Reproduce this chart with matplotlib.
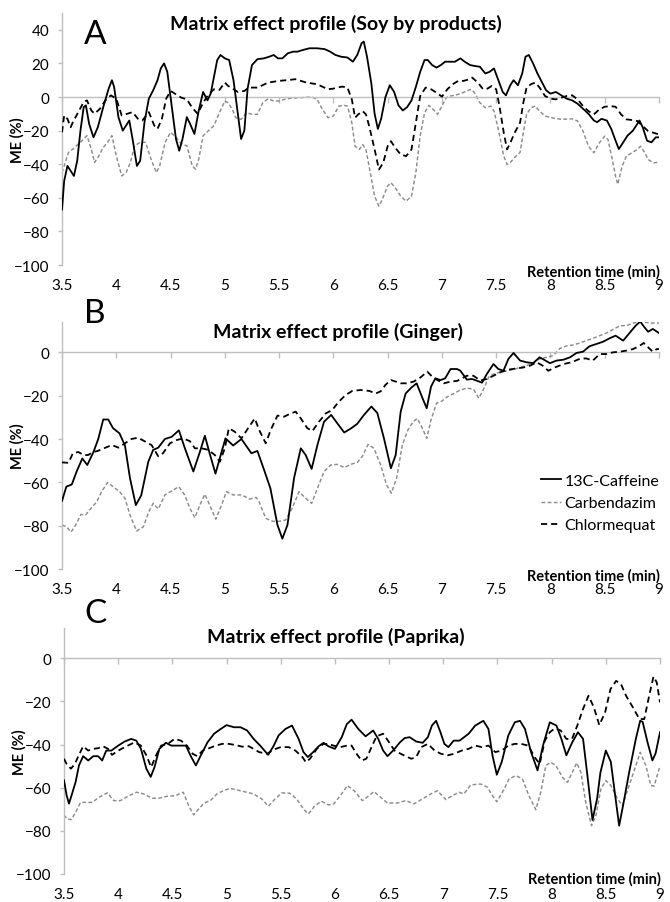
import numpy as np
import matplotlib
matplotlib.use("Agg")
import matplotlib.pyplot as plt
from matplotlib.transforms import offset_copy

plt.rcParams['font.family'] = ['Lato', 'DejaVu Sans']

# axis ticks
x_ticks = [3.5, 4, 4.5, 5, 5.5, 6, 6.5, 7, 7.5, 8, 8.5, 9]
x_tick_labels = ['3.5', '4', '4.5', '5', '5.5', '6', '6.5', '7', '7.5', '8', '8.5', '9']
y_ticks_a = [-100, -80, -60, -40, -20, 0, 20, 40]
y_ticks_bc = [-100, -80, -60, -40, -20, 0]

series_names = ['13C-Caffeine', 'Carbendazim', 'Chlormequat']
panel_letters = ['A', 'B', 'C']
panel_titles = ['Matrix effect profile (Soy by products)',
                'Matrix effect profile (Ginger)',
                'Matrix effect profile (Paprika)']

# (retention time, ME %)
a_caffeine = [(3.50,-67),(3.52,-50),(3.55,-41),(3.58,-44),(3.61,-47),(3.64,-38),(3.67,-20),(3.70,-6),
    (3.72,-5),(3.75,-16),(3.79,-24),(3.83,-18),(3.88,-6),(3.93,5),(3.96,10),(3.98,6),(4.02,-12),
    (4.06,-20),(4.09,-17),(4.12,-14),(4.15,-25),(4.19,-41),(4.22,-38),(4.26,-15),(4.30,-1),(4.34,4),
    (4.38,10),(4.41,17),(4.44,20),(4.47,15),(4.51,-5),(4.55,-25),(4.58,-32),(4.61,-25),(4.65,-12),
    (4.68,-16),(4.72,-22),(4.76,-8),(4.80,3),(4.84,-2),(4.87,2),(4.90,12),(4.93,22),(4.96,25),(5.00,23),
    (5.04,22),(5.08,10),(5.12,-10),(5.15,-25),(5.18,-20),(5.21,5),(5.25,19),(5.30,22.5),(5.36,23),
    (5.41,24),(5.45,25),(5.49,23),(5.53,23),(5.58,26),(5.63,27),(5.67,27),(5.72,28),(5.78,29),(5.85,29),
    (5.92,28.5),(5.97,27),(6.02,25),(6.07,24),(6.13,23.5),(6.18,21),(6.22,25),(6.26,32),(6.28,33),
    (6.31,24),(6.35,8),(6.38,-10),(6.41,-19),(6.44,-13),(6.48,0),(6.52,7),(6.56,3),(6.60,-5),(6.64,-8),
    (6.68,-6),(6.72,-2),(6.76,6),(6.80,15),(6.84,22),(6.87,22),(6.91,19),(6.95,17.5),(6.99,19),(7.03,21),
    (7.07,21),(7.12,21),(7.17,23),(7.21,21),(7.26,19),(7.30,18.5),(7.35,18),(7.40,14),(7.44,15),(7.48,17),
    (7.52,10),(7.56,3),(7.59,1),(7.63,7),(7.66,10),(7.70,7),(7.74,14),(7.77,24),(7.80,25),(7.84,20),
    (7.88,14),(7.92,9),(7.96,4),(8.00,2),(8.05,3),(8.10,1),(8.15,-1),(8.20,-2),(8.25,-4),(8.30,-7),
    (8.35,-10),(8.40,-14),(8.43,-15),(8.47,-13),(8.52,-14),(8.56,-19),(8.60,-26),(8.63,-31),(8.67,-27),
    (8.71,-23),(8.76,-20),(8.80,-16),(8.82,-14),(8.85,-18),(8.89,-26),(8.93,-27),(8.97,-24),(9.00,-24)]

a_carbendazim = [(3.50,-45),(3.53,-39),(3.56,-33),(3.60,-31),(3.65,-28),(3.70,-25),(3.73,-23),(3.77,-31),
    (3.80,-39),(3.84,-35),(3.88,-30),(3.92,-27),(3.96,-23),(4.00,-35),(4.05,-47),(4.09,-45),(4.13,-39),
    (4.17,-29),(4.22,-27),(4.27,-27),(4.32,-37),(4.37,-45),(4.40,-41),(4.45,-27),(4.50,-21),(4.55,-24),
    (4.60,-28),(4.65,-29),(4.70,-41),(4.73,-43),(4.76,-37),(4.80,-23),(4.85,-20),(4.90,-17),(4.95,-9.4),
    (5.00,-2.4),(5.03,-3.4),(5.07,-7.4),(5.10,-12.3),(5.15,-13.3),(5.20,-9.4),(5.25,-10.3),(5.30,-10.3),
    (5.35,-3.4),(5.40,-1),(5.45,-2.4),(5.50,-2.4),(5.55,-1.4),(5.60,-0.8),(5.70,-0.4),(5.80,0),
    (5.85,-1.4),(5.90,-7.4),(5.95,-12.3),(6.00,-11.3),(6.05,-5.4),(6.10,-5),(6.13,-5.4),(6.17,-15.3),
    (6.20,-29.3),(6.24,-31.2),(6.27,-28.3),(6.30,-31.2),(6.34,-45),(6.38,-59),(6.42,-65),(6.45,-61),
    (6.50,-53),(6.53,-51),(6.57,-54),(6.62,-59),(6.67,-62),(6.72,-59),(6.76,-45),(6.80,-23),(6.84,-9.4),
    (6.88,-5),(6.92,-7.4),(6.96,-10.3),(7.00,-5.4),(7.04,-0.4),(7.08,0.6),(7.13,1.2),(7.18,2.2),
    (7.23,3.6),(7.27,4.6),(7.30,2.6),(7.35,-3.4),(7.40,-6.4),(7.45,-5.4),(7.48,-8.4),(7.52,-19.3),
    (7.57,-35.2),(7.60,-40.2),(7.63,-39),(7.67,-36),(7.72,-33),(7.75,-21.3),(7.78,-10.3),(7.82,-6.4),
    (7.86,-5.4),(7.90,-8.4),(7.95,-11.3),(8.00,-12.3),(8.10,-13.3),(8.20,-13),(8.25,-14.3),(8.30,-20.3),
    (8.35,-29.3),(8.40,-33.2),(8.45,-27.3),(8.50,-23.3),(8.53,-25.3),(8.57,-37.2),(8.60,-47.2),(8.62,-52),
    (8.66,-41.2),(8.70,-35.2),(8.75,-33.2),(8.80,-31.2),(8.83,-29.3),(8.87,-33.2),(8.90,-37.2),
    (8.95,-39.2),(9.00,-38.8)]

a_chlormequat = [(3.50,-21),(3.52,-11),(3.55,-13),(3.58,-18),(3.60,-15),(3.65,-9),(3.70,-3),(3.73,-2),
    (3.77,-8),(3.80,-10),(3.85,-7),(3.90,-2),(3.95,1),(4.00,-1),(4.05,-11),(4.10,-10),(4.15,-9),(4.20,-13),
    (4.24,-14),(4.30,-9),(4.35,-17),(4.38,-19),(4.42,-13),(4.46,-1),(4.50,3.6),(4.55,1.6),(4.60,-0.4),
    (4.65,-1.4),(4.70,-6.4),(4.75,-10),(4.80,-3.4),(4.85,1.6),(4.90,4.6),(4.95,4.2),(5.00,8.6),(5.03,6.6),
    (5.08,4.6),(5.12,3),(5.18,3.6),(5.22,5.6),(5.30,5.6),(5.40,8.6),(5.50,9.6),(5.60,10.2),(5.65,10.6),
    (5.75,8.6),(5.85,7.6),(5.95,4.6),(6.00,5),(6.08,6.2),(6.13,5.6),(6.17,-1.4),(6.20,-12.3),(6.23,-10.3),
    (6.27,-8.4),(6.30,-10.3),(6.33,-17.3),(6.38,-31.2),(6.42,-43.2),(6.46,-39),(6.50,-29.3),(6.53,-26.3),
    (6.57,-30.2),(6.62,-34.2),(6.67,-35.2),(6.72,-31.2),(6.76,-15.3),(6.80,0.6),(6.85,5.6),(6.90,4.6),
    (6.95,2.6),(7.00,0.2),(7.05,4.6),(7.10,7.6),(7.15,9.6),(7.20,9.6),(7.25,10.5),(7.28,11.5),(7.33,8.6),
    (7.38,4.6),(7.42,5),(7.46,6.6),(7.50,4.6),(7.53,-5.4),(7.57,-21.3),(7.60,-31.2),(7.63,-27.3),
    (7.67,-21.3),(7.72,-15.3),(7.75,-3.4),(7.78,5.6),(7.82,7.6),(7.86,8.6),(7.90,5.6),(7.95,0.6),
    (8.00,-1),(8.05,-1.4),(8.10,-0.4),(8.15,0.6),(8.20,1),(8.25,-1.4),(8.30,-5.4),(8.35,-8.4),(8.40,-10.3),
    (8.45,-7.4),(8.50,-5.8),(8.55,-5.4),(8.60,-5.8),(8.65,-10.3),(8.70,-13.3),(8.75,-13.7),(8.80,-14.3),
    (8.85,-17.3),(8.90,-20.3),(8.95,-21.3),(9.00,-22.3)]

b_caffeine = [(3.50,-68.6),(3.54,-62),(3.59,-61),(3.635,-55),(3.687,-49),(3.733,-52),(3.79,-46),
    (3.834,-40),(3.88,-31),(3.926,-31),(3.97,-35),(4.03,-37.4),(4.08,-43),(4.126,-58),(4.18,-70.5),
    (4.23,-66),(4.295,-50.5),(4.34,-45),(4.387,-44),(4.448,-40),(4.51,-39),(4.577,-36),(4.63,-44),
    (4.71,-55),(4.77,-46),(4.816,-38.5),(4.86,-46.6),(4.914,-56),(4.97,-46),(5.006,-39.7),(5.077,-43),
    (5.153,-40),(5.245,-46.6),(5.30,-45.5),(5.36,-54),(5.42,-62.8),(5.485,-79.7),(5.53,-86),
    (5.577,-79.7),(5.638,-58),(5.70,-44.3),(5.745,-47.4),(5.80,-53.8),(5.853,-42.8),(5.914,-32),
    (5.98,-28.9),(6.037,-32.8),(6.10,-37),(6.166,-35),(6.22,-33),(6.28,-29),(6.35,-25),(6.405,-28),
    (6.466,-39.7),(6.53,-53.5),(6.574,-47.4),(6.62,-27.4),(6.666,-19),(6.718,-16.3),(6.767,-14.3),
    (6.82,-21),(6.86,-25.8),(6.90,-15.8),(6.94,-12),(6.987,-12.8),(7.03,-12),(7.08,-7.7),(7.14,-7.7),
    (7.17,-8.5),(7.23,-12.6),(7.277,-12.3),(7.317,-13),(7.37,-14),(7.414,-10),(7.475,-5.4),(7.52,-7.7),
    (7.567,-8.5),(7.613,-3),(7.66,-0.3),(7.72,-3.8),(7.78,-4.6),(7.84,-5),(7.90,-2.3),(7.94,-3.4),
    (7.995,-5),(8.057,-3.8),(8.12,-3.4),(8.18,-2.3),(8.24,-0.3),(8.30,0.3),(8.36,2.8),(8.42,3.8),
    (8.485,4.9),(8.546,6.5),(8.60,7.7),(8.67,5.4),(8.73,9),(8.785,12.3),(8.827,14.2),(8.867,11.5),
    (8.90,9.5),(8.943,10.8),(9.00,8.9)]

b_carbendazim = [(3.50,-79.7),(3.543,-80.5),(3.583,-83),(3.626,-79.7),(3.675,-74.8),(3.718,-75),
    (3.767,-72),(3.82,-69),(3.865,-64.3),(3.92,-60),(3.97,-62),(4.03,-64.3),(4.08,-67.4),(4.126,-75),
    (4.187,-82.5),(4.25,-80.5),(4.30,-73.5),(4.34,-69.7),(4.387,-72.3),(4.448,-65.8),(4.51,-64),
    (4.577,-62),(4.63,-65.8),(4.678,-72),(4.724,-76.3),(4.77,-70.5),(4.816,-65.5),(4.86,-70.5),
    (4.917,-77),(4.97,-70.5),(5.015,-64.3),(5.077,-65.8),(5.153,-65.8),(5.23,-67.7),(5.29,-67),
    (5.316,-69),(5.377,-76.6),(5.44,-78),(5.50,-78),(5.56,-77.4),(5.62,-72),(5.684,-64.3),(5.745,-67.4),
    (5.80,-69.7),(5.853,-62.8),(5.914,-55),(5.975,-52),(6.037,-51.7),(6.10,-53.2),(6.16,-51.7),
    (6.22,-50.8),(6.267,-48),(6.32,-42.5),(6.374,-44.3),(6.436,-52),(6.49,-61.2),(6.534,-65),
    (6.583,-58),(6.635,-42.8),(6.687,-35.8),(6.736,-32),(6.773,-30.5),(6.82,-35),(6.86,-39.7),
    (6.90,-31.2),(6.95,-23.5),(7.00,-22.5),(7.05,-20.5),(7.11,-19),(7.17,-17.4),(7.23,-16.5),
    (7.29,-17),(7.34,-21.2),(7.384,-17),(7.43,-11.5),(7.475,-10),(7.537,-9.2),(7.60,-8.5),(7.674,-7.7),
    (7.75,-6.5),(7.827,-5.4),(7.90,-3),(7.965,-2.3),(8.026,-1.5),(8.087,1.8),(8.15,3),(8.21,3.4),
    (8.27,4.3),(8.33,5.4),(8.393,6.5),(8.454,7.7),(8.515,8.9),(8.576,10.5),(8.64,12.3),(8.70,12.3),
    (8.76,13.5),(8.82,14.2),(8.88,13.8),(8.94,13.5),(9.00,13.5)]

b_chlormequat = [(3.50,-50.8),(3.56,-51),(3.60,-46.6),(3.65,-46),(3.70,-47.4),(3.74,-47.4),(3.79,-46),
    (3.83,-45.5),(3.90,-44),(3.96,-42.8),(4.02,-44),(4.08,-42),(4.14,-40),(4.20,-39.4),(4.26,-41),
    (4.325,-42.8),(4.387,-48),(4.43,-46.6),(4.494,-42),(4.555,-40.5),(4.617,-39.7),(4.678,-41),
    (4.724,-44.3),(4.785,-44.3),(4.847,-45),(4.908,-47.4),(4.954,-50.5),(5.00,-44.3),(5.037,-35),
    (5.09,-36.6),(5.153,-39.7),(5.215,-35),(5.276,-30.5),(5.316,-35.8),(5.377,-42),(5.423,-35.8),
    (5.485,-29.2),(5.546,-29.7),(5.607,-28.2),(5.653,-27.4),(5.70,-30.5),(5.76,-35),(5.807,-36.3),
    (5.868,-32),(5.93,-28.2),(5.99,-26.6),(6.05,-22.8),(6.113,-19.7),(6.175,-17.8),(6.25,-17.4),
    (6.33,-17.8),(6.39,-19),(6.436,-18),(6.48,-15),(6.53,-12.8),(6.574,-13.5),(6.62,-14.3),(6.68,-14.3),
    (6.74,-13.5),(6.80,-11.7),(6.865,-8.9),(6.91,-11.2),(6.957,-12.8),(7.018,-14.3),(7.08,-13.5),
    (7.14,-13.2),(7.23,-10.8),(7.29,-10.8),(7.353,-13),(7.414,-12.3),(7.475,-10.8),(7.537,-9.2),
    (7.613,-8),(7.69,-7.4),(7.75,-7),(7.81,-6.2),(7.873,-4.6),(7.93,-6.2),(7.98,-8.5),(8.04,-7),
    (8.12,-5.4),(8.194,-4.6),(8.27,-3),(8.33,-2.8),(8.39,-3.8),(8.454,-0.8),(8.515,-0.8),(8.576,0),
    (8.64,0.3),(8.70,0.8),(8.76,1.5),(8.815,2.8),(8.86,4.3),(8.90,2.3),(8.943,0.3),(8.98,1.5),(9.00,1.5)]

c_caffeine = [(3.50,-56.6),(3.524,-63.5),(3.546,-67.4),(3.57,-63.5),(3.607,-57.4),(3.638,-49.7),
    (3.677,-45.4),(3.723,-47.4),(3.77,-45.4),(3.815,-45.4),(3.852,-47.4),(3.89,-42.8),(3.937,-42.8),
    (4.00,-40.5),(4.06,-38.6),(4.12,-37.4),(4.167,-38.2),(4.21,-42),(4.26,-51.2),(4.30,-55),
    (4.335,-50.5),(4.38,-42),(4.44,-39.2),(4.49,-40.5),(4.55,-40.5),(4.625,-40.5),(4.67,-45.4),
    (4.717,-49.7),(4.763,-45),(4.824,-39),(4.885,-35),(4.946,-32.8),(5.00,-31),(5.07,-32),(5.13,-32),
    (5.19,-33.5),(5.25,-37.4),(5.31,-40.5),(5.384,-44.8),(5.436,-40.5),(5.48,-35.8),(5.543,-32.8),
    (5.604,-31.2),(5.665,-37.4),(5.71,-43.5),(5.75,-45.8),(5.80,-43.5),(5.85,-40.8),(5.895,-39.2),
    (5.94,-40.8),(6.00,-42),(6.063,-36.6),(6.11,-30.5),(6.154,-28.5),(6.216,-32.8),(6.283,-36.2),
    (6.353,-33.5),(6.40,-37.4),(6.445,-42.8),(6.485,-45.4),(6.537,-42.8),(6.60,-39),(6.644,-37),
    (6.69,-36.6),(6.75,-38.6),(6.81,-39.2),(6.858,-36.6),(6.895,-31.2),(6.934,-29),(6.974,-34.3),
    (7.01,-39.7),(7.047,-41.2),(7.096,-38.2),(7.15,-38.2),(7.234,-35),(7.295,-31.2),(7.37,-29),
    (7.417,-32.8),(7.454,-45),(7.494,-54),(7.54,-48),(7.60,-35.8),(7.66,-29.7),(7.708,-29),
    (7.754,-32.8),(7.81,-43.5),(7.87,-52),(7.92,-40.5),(7.983,-29.7),(8.044,-31.2),(8.09,-37.4),
    (8.136,-45),(8.19,-39),(8.243,-34.3),(8.29,-37.4),(8.33,-54.3),(8.377,-75),(8.42,-65),(8.45,-53),
    (8.50,-42.8),(8.546,-48),(8.59,-65),(8.623,-77.6),(8.66,-68),(8.715,-53),(8.777,-37.4),
    (8.817,-29),(8.84,-29.5),(8.885,-39),(8.93,-47.4),(8.96,-44),(9.00,-34.3)]

c_carbendazim = [(3.50,-72.6),(3.53,-74.5),(3.567,-74.8),(3.607,-71.4),(3.653,-66.8),(3.70,-66.8),
    (3.76,-66.8),(3.822,-64.5),(3.90,-62.4),(3.96,-66),(4.02,-66),(4.10,-63.7),(4.17,-62.1),
    (4.236,-62.9),(4.313,-64.9),(4.374,-64.9),(4.45,-64),(4.528,-63.7),(4.60,-62.1),(4.65,-68.3),
    (4.696,-72.6),(4.742,-69.9),(4.794,-67.1),(4.85,-66),(4.911,-62.9),(4.97,-61.4),(5.034,-60.3),
    (5.126,-61.4),(5.25,-62.9),(5.325,-65.2),(5.386,-68.6),(5.448,-65.2),(5.51,-62.4),(5.585,-62.6),
    (5.647,-65.2),(5.71,-69.9),(5.755,-72.2),(5.816,-68.3),(5.877,-66.3),(5.94,-68),(5.99,-67.5),
    (6.05,-63.7),(6.115,-59),(6.177,-61.4),(6.254,-66),(6.315,-63.7),(6.36,-61.8),(6.423,-64.5),
    (6.485,-67.1),(6.577,-67.1),(6.654,-66),(6.73,-67.5),(6.808,-65.2),(6.885,-62.9),(6.946,-61.4),
    (7.023,-65.5),(7.085,-63.7),(7.146,-62.1),(7.19,-62.9),(7.254,-58.7),(7.346,-58.3),(7.408,-59.8),
    (7.454,-63.7),(7.494,-66.5),(7.546,-62.1),(7.608,-55.9),(7.67,-54.4),(7.73,-55.9),(7.79,-63.7),
    (7.854,-70.2),(7.90,-62.1),(7.946,-49.8),(7.99,-48.2),(8.04,-49.8),(8.10,-55.2),(8.146,-57.5),
    (8.19,-52.9),(8.232,-48.5),(8.27,-52.9),(8.315,-66.8),(8.368,-77.6),(8.408,-73),(8.454,-60.6),
    (8.50,-56.7),(8.546,-59),(8.608,-65.2),(8.654,-68.3),(8.715,-59),(8.777,-49.8),(8.817,-43.6),
    (8.87,-49.8),(8.915,-59),(8.946,-59.3),(9.00,-49.8)]

c_chlormequat = [(3.50,-46.6),(3.524,-49),(3.564,-51.2),(3.60,-49),(3.638,-44.8),(3.677,-40.8),
    (3.723,-42.8),(3.77,-42),(3.815,-41.7),(3.86,-40.8),(3.907,-42),(3.943,-44.8),(3.98,-43.5),
    (4.03,-42),(4.09,-40.5),(4.15,-39),(4.21,-40.5),(4.26,-45),(4.304,-50.5),(4.35,-45),(4.396,-40.5),
    (4.457,-39.7),(4.52,-37.4),(4.58,-38.2),(4.634,-40.5),(4.687,-44.3),(4.73,-45.4),(4.78,-42.8),
    (4.84,-41.7),(4.90,-40.5),(4.96,-39.7),(5.02,-39.7),(5.08,-40.2),(5.145,-41),(5.206,-40.8),
    (5.25,-42),(5.30,-43.5),(5.375,-44.3),(5.436,-42.3),(5.50,-41.2),(5.573,-41.2),(5.635,-42.8),
    (5.70,-45.8),(5.732,-48.2),(5.77,-46.6),(5.833,-42),(5.895,-39.7),(5.94,-39.7),(5.986,-40.5),
    (6.05,-41.2),(6.11,-40.5),(6.154,-40.5),(6.20,-44.3),(6.246,-47.4),(6.29,-46.6),(6.338,-41.2),
    (6.384,-36.2),(6.445,-35),(6.49,-38.2),(6.55,-42.8),(6.628,-44.8),(6.705,-46.6),(6.75,-45.8),
    (6.797,-41.2),(6.858,-39.7),(6.92,-42.8),(6.98,-44.3),(7.04,-45),(7.10,-44.3),(7.17,-42.8),
    (7.234,-42),(7.295,-40.5),(7.356,-41.2),(7.417,-40.5),(7.48,-43.5),(7.54,-42.8),(7.60,-40.5),
    (7.66,-39.7),(7.72,-39.7),(7.784,-40.5),(7.845,-46),(7.89,-49),(7.937,-38.2),(7.983,-34.3),
    (8.03,-32.5),(8.084,-33.5),(8.136,-37.4),(8.188,-37.4),(8.237,-31.2),(8.29,-23.5),(8.34,-17.4),
    (8.39,-22.8),(8.44,-31),(8.494,-25),(8.543,-14.3),(8.595,-10.5),(8.64,-12),(8.687,-17.4),
    (8.75,-22.8),(8.81,-28.2),(8.855,-28.2),(8.90,-17.4),(8.94,-8.5),(8.97,-11.2),(9.00,-20.5)]

panels = [
    {'13C-Caffeine': a_caffeine, 'Carbendazim': a_carbendazim, 'Chlormequat': a_chlormequat},
    {'13C-Caffeine': b_caffeine, 'Carbendazim': b_carbendazim, 'Chlormequat': b_chlormequat},
    {'13C-Caffeine': c_caffeine, 'Carbendazim': c_carbendazim, 'Chlormequat': c_chlormequat},
]

styles = {
    '13C-Caffeine': dict(color='black', lw=1.3, ls='-', zorder=4),
    'Carbendazim': dict(color='#8c8c8c', lw=1.05, ls=(0, (2.6, 1.6)), zorder=2),
    'Chlormequat': dict(color='black', lw=1.3, ls=(0, (3.4, 2.2)), zorder=3),
}

W, H = 670, 903
fig = plt.figure(figsize=(W / 100, H / 100), dpi=100)

# pixel boxes (left, top, right, bottom) and y-limits
boxes = [(62, 14, 659, 266), (62, 323, 659, 570), (64, 629, 660, 875)]
ylims = [(-100, 50), (-100, 14), (-100, 14)]
yticks = [y_ticks_a, y_ticks_bc, y_ticks_bc]
title_pos = [(336, 24), (338, 332), (336, 637)]
letter_pos = [(95, 35), (95, 314), (95, 614)]
xlabel_off = [-6, -6, -4]
grey = '#bfbfbf'

for i, (l, t, r, b) in enumerate(boxes):
    ax = fig.add_axes([l / W, 1 - b / H, (r - l) / W, (b - t) / H])
    for name in series_names:
        xs, ys = np.array(panels[i][name]).T
        ax.plot(xs, ys, label=name, **styles[name])

    ax.set_xlim(3.5, 9)
    ax.set_ylim(*ylims[i])
    for s in ['top', 'right']:
        ax.spines[s].set_visible(False)
    ax.spines['left'].set_color(grey)
    ax.spines['bottom'].set_color(grey)
    ax.spines['left'].set_linewidth(1.0)
    ax.spines['bottom'].set_linewidth(1.0)
    ax.spines['bottom'].set_position(('data', 0))

    ax.set_yticks(yticks[i])
    ax.tick_params(axis='y', direction='out', length=3, width=1.0, color=grey,
                   labelsize=11, pad=6)
    ax.set_xticks(x_ticks)
    ax.tick_params(axis='x', direction='out', length=4, width=1.0, color=grey,
                   labelbottom=False)

    sec = ax.secondary_xaxis('bottom')
    sec.set_xticks(x_ticks, x_tick_labels)
    sec.tick_params(length=0, labelsize=11, pad=9.5)
    sec.spines['bottom'].set_visible(False)

    ax.set_ylabel('ME (%)', fontsize=10.5, fontweight='bold')
    ax.yaxis.set_label_coords(-0.062, 0.5)

    ax.text(1.0, 0.0, 'Retention time (min)', fontsize=10.5, fontweight='bold',
            ha='right', va='center',
            transform=offset_copy(ax.transAxes, fig=fig, x=1, y=xlabel_off[i], units='dots'))

    fig.text(title_pos[i][0] / W, 1 - title_pos[i][1] / H, panel_titles[i],
             fontsize=14, fontweight='bold', ha='center', va='center')
    fig.text(letter_pos[i][0] / W, 1 - letter_pos[i][1] / H, panel_letters[i],
             fontsize=24, ha='center', va='center')

    if i == 1:
        ax.legend(loc='center left', bbox_to_anchor=(0.803, 0.267), frameon=False,
                  fontsize=11.5, handlelength=1.2, handletextpad=0.25, labelspacing=0.5,
                  borderpad=0, borderaxespad=0)

fig.savefig('out.png', dpi=100)
